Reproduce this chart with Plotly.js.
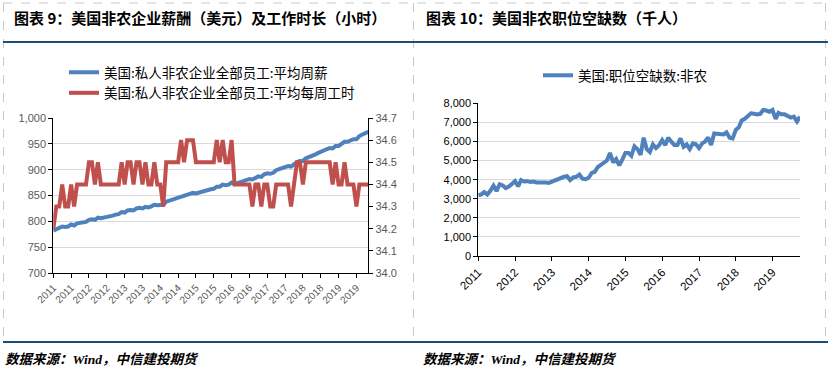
<!DOCTYPE html>
<html>
<head>
<meta charset="utf-8">
<script src="https://cdn.plot.ly/plotly-3.0.1.min.js"></script>
<style>html,body{margin:0;padding:0;background:#fff;}#chart{width:829px;height:367px;}</style>
</head>
<body>
<div id="chart"></div>
<script>
// ---------- DATA ----------
// Left chart: monthly, Jan 2011 - Nov 2019
const weeklyEarnings = [
 782,785,787,790,789,790,794,792,796,797,798,799,
 803,804,803,807,806,807,809,810,811,813,814,818,
 817,821,822,821,825,826,825,828,827,829,832,831,
 832,832,838,840,841,843,845,848,848,852,853,855,
 854,856,857,859,860,862,863,867,867,871,870,871,
 875,872,874,876,878,880,882,881,885,887,886,891,
 893,892,894,899,901,903,905,907,906,911,915,917,
 917,922,924,927,929,932,934,937,939,942,941,946,
 946,949,954,954,957,959,959,965,968,970,973
];
const weeklyHours = [
 34.2,34.3,34.3,34.4,34.3,34.3,34.4,34.3,34.4,34.4,34.4,34.4,
 34.5,34.5,34.4,34.5,34.4,34.4,34.4,34.4,34.4,34.4,34.4,34.5,
 34.4,34.5,34.5,34.4,34.5,34.5,34.4,34.5,34.4,34.4,34.5,34.4,
 34.4,34.3,34.5,34.5,34.5,34.5,34.5,34.6,34.5,34.6,34.6,34.6,
 34.5,34.5,34.5,34.5,34.5,34.5,34.5,34.6,34.5,34.6,34.5,34.5,
 34.6,34.4,34.4,34.4,34.4,34.4,34.4,34.3,34.4,34.4,34.3,34.4,
 34.4,34.3,34.3,34.4,34.4,34.4,34.4,34.4,34.3,34.4,34.5,34.5,
 34.4,34.5,34.5,34.5,34.5,34.5,34.5,34.5,34.5,34.5,34.4,34.5,
 34.4,34.4,34.5,34.4,34.4,34.4,34.3,34.4,34.4,34.4,34.4
];
const leftTickLabels = ['2011','2011','2012','2012','2013','2013','2014','2014','2015','2015',
                        '2016','2016','2017','2017','2018','2018','2019','2019'];

// Right chart: monthly, Jan 2011 - Oct 2019 (thousands)
const jobOpenings = [
 3180,3230,3350,3220,3420,3680,3400,3760,3700,3560,3640,3780,
 3920,3650,3970,3900,3920,3880,3900,3850,3860,3880,3850,3830,
 3900,3950,4050,4100,4150,4180,3980,4120,4150,4270,4050,4020,
 4100,4350,4400,4650,4750,4900,5000,5400,4900,5080,4750,5050,
 5400,5400,5250,5750,5600,5300,6200,5600,5450,5850,5650,5800,
 6070,5810,6200,5990,5810,5810,6160,5720,5850,5600,5900,5850,
 5650,5900,5990,6210,5810,6420,6420,6400,6370,6480,6200,6160,
 6600,6750,7100,7190,7300,7475,7450,7420,7450,7650,7620,7560,
 7650,7180,7500,7420,7420,7350,7250,7300,7050,7300
];
const rightTickLabels = ['2011','2012','2013','2014','2015','2016','2017','2018','2019'];

const nameEarnings = '美国:私人非农企业全部员工:平均周薪';
const nameHours = '美国:私人非农企业全部员工:平均每周工时';
const nameJobs = '美国:职位空缺数:非农';
const title1 = '图表 9：美国非农企业薪酬（美元）及工作时长（小时）';
const title2 = '图表 10：美国非农职位空缺数（千人）';
const sourceText = '数据来源：<span style="font-family:Liberation Serif">Wind</span>，中信建投期货';

// ---------- BUILD ----------
const allMonths = [];
for (let y = 2011; y <= 2019; y++) for (let m = 1; m <= 12; m++) allMonths.push(y + '-' + String(m).padStart(2, '0') + '-01');
const leftX = allMonths.slice(0, weeklyEarnings.length);
const rightX = allMonths.slice(0, jobOpenings.length);
const leftTickVals = leftTickLabels.map((_, i) => leftX[i * 6]);
const rightTickVals = rightTickLabels.map(y => y + '-01-01');

const W = 829, H = 367;
const px = v => v / W, py = v => 1 - v / H;

const CJK = '"Noto Sans CJK SC", "Liberation Sans", sans-serif';
const NUM = '"Liberation Sans", Arial, sans-serif';
const BLUE = '#4F81BD', RED = '#C0504D';

const traces = [
  {x: leftX, y: weeklyEarnings, name: nameEarnings, type: 'scatter', mode: 'lines',
   line: {color: BLUE, width: 4}, xaxis: 'x', yaxis: 'y', legend: 'legend', legendgroup: 'a'},
  {x: leftX, y: weeklyHours, name: nameHours, type: 'scatter', mode: 'lines',
   line: {color: RED, width: 4}, xaxis: 'x', yaxis: 'y2', legend: 'legend', legendgroup: 'b'},
  {x: rightX, y: jobOpenings, name: nameJobs, type: 'scatter', mode: 'lines',
   line: {color: BLUE, width: 4}, xaxis: 'x3', yaxis: 'y3', legend: 'legend2'}
];

const tickFontL = {family: NUM, size: 11, color: '#595959'};
const tickFontR = {family: NUM, size: 11, color: '#000'};

const layout = {
  width: W, height: H,
  margin: {l: 0, r: 0, t: 0, b: 0},
  paper_bgcolor: '#fff', plot_bgcolor: '#fff',
  showlegend: true,
  xaxis: {
    domain: [px(53.3), px(368.3)], anchor: 'y', type: 'category',
    range: [0, weeklyEarnings.length - 1],
    tickmode: 'array', tickvals: leftTickVals, ticktext: leftTickLabels,
    tickangle: -45, tickfont: {family: NUM, size: 10, color: '#595959'},
    ticks: 'outside', ticklen: 4, tickcolor: '#000',
    showline: true, linecolor: '#000', linewidth: 1, showgrid: false, zeroline: false
  },
  yaxis: {
    domain: [py(273), py(118)], anchor: 'x', range: [700, 1000], dtick: 50,
    tickformat: ',', tickfont: tickFontL,
    ticks: 'outside', ticklen: 4, tickcolor: '#000',
    showline: true, linecolor: '#000', linewidth: 1,
    showgrid: true, gridcolor: '#D9D9D9', gridwidth: 1, zeroline: false
  },
  yaxis2: {
    overlaying: 'y', side: 'right', anchor: 'x', range: [34.0, 34.7], dtick: 0.1,
    tickformat: '.1f', tickfont: tickFontL,
    ticks: 'outside', ticklen: 4, tickcolor: '#000',
    showline: true, linecolor: '#000', linewidth: 1, showgrid: false, zeroline: false
  },
  xaxis3: {
    domain: [px(478.3), px(800)], anchor: 'y3', type: 'date',
    range: [rightX[0], rightX[rightX.length - 1]],
    tickmode: 'array', tickvals: rightTickVals, ticktext: rightTickLabels,
    tickangle: -45, tickfont: {family: NUM, size: 11.5, color: '#000'},
    ticks: 'outside', ticklen: 4, tickcolor: '#000',
    showline: true, linecolor: '#000', linewidth: 1, showgrid: false, zeroline: false
  },
  yaxis3: {
    domain: [py(256), py(103.3)], anchor: 'x3', range: [0, 8000], dtick: 1000,
    tickformat: ',', tickfont: tickFontR,
    ticks: 'outside', ticklen: 4, tickcolor: '#000',
    showline: true, linecolor: '#000', linewidth: 1,
    showgrid: true, gridcolor: '#D9D9D9', gridwidth: 1, zeroline: false
  },
  legend: {
    x: px(64), y: py(57), xanchor: 'left', yanchor: 'top',
    bgcolor: 'rgba(0,0,0,0)', borderwidth: 0, traceorder: 'grouped', tracegroupgap: 0,
    font: {family: CJK, size: 13.5, color: '#000'}
  },
  legend2: {
    x: px(538), y: py(60), xanchor: 'left', yanchor: 'top',
    bgcolor: 'rgba(0,0,0,0)', borderwidth: 0,
    font: {family: CJK, size: 13.5, color: '#000'}
  },
  shapes: [
    {type: 'line', xref: 'paper', yref: 'paper', x0: px(3), x1: px(825), y0: py(3), y1: py(3),
     line: {color: '#C8C8C8', width: 1, dash: 'dash'}},
    {type: 'line', xref: 'paper', yref: 'paper', x0: px(3.5), x1: px(3.5), y0: py(3), y1: py(341),
     line: {color: '#C8C8C8', width: 1, dash: 'dash'}},
    {type: 'line', xref: 'paper', yref: 'paper', x0: px(413.5), x1: px(413.5), y0: py(3), y1: py(341),
     line: {color: '#C8C8C8', width: 1, dash: 'dash'}},
    {type: 'line', xref: 'paper', yref: 'paper', x0: px(825.5), x1: px(825.5), y0: py(3), y1: py(341),
     line: {color: '#C8C8C8', width: 1, dash: 'dash'}},
    {type: 'line', xref: 'paper', yref: 'paper', x0: px(3), x1: px(828), y0: py(42), y1: py(42),
     line: {color: '#1C4E74', width: 2.2}},
    {type: 'line', xref: 'paper', yref: 'paper', x0: px(3), x1: px(828), y0: py(342), y1: py(342),
     line: {color: '#1C4E74', width: 2.2}}
  ],
  annotations: [
    {text: '<b>' + title1 + '</b>', xref: 'paper', yref: 'paper', x: px(12), y: py(17),
     xanchor: 'left', yanchor: 'middle', showarrow: false,
     font: {family: CJK, size: 15, color: '#000'}},
    {text: '<b>' + title2 + '</b>', xref: 'paper', yref: 'paper', x: px(424), y: py(17),
     xanchor: 'left', yanchor: 'middle', showarrow: false,
     font: {family: CJK, size: 15, color: '#000'}},
    {text: '<b><i>' + sourceText + '</i></b>', xref: 'paper', yref: 'paper', x: px(3), y: py(358),
     xanchor: 'left', yanchor: 'middle', showarrow: false,
     font: {family: CJK, size: 13.5, color: '#000'}},
    {text: '<b><i>' + sourceText + '</i></b>', xref: 'paper', yref: 'paper', x: px(421), y: py(358),
     xanchor: 'left', yanchor: 'middle', showarrow: false,
     font: {family: CJK, size: 13.5, color: '#000'}}
  ]
};

Plotly.newPlot('chart', traces, layout, {staticPlot: true, displayModeBar: false});
</script>
</body>
</html>
